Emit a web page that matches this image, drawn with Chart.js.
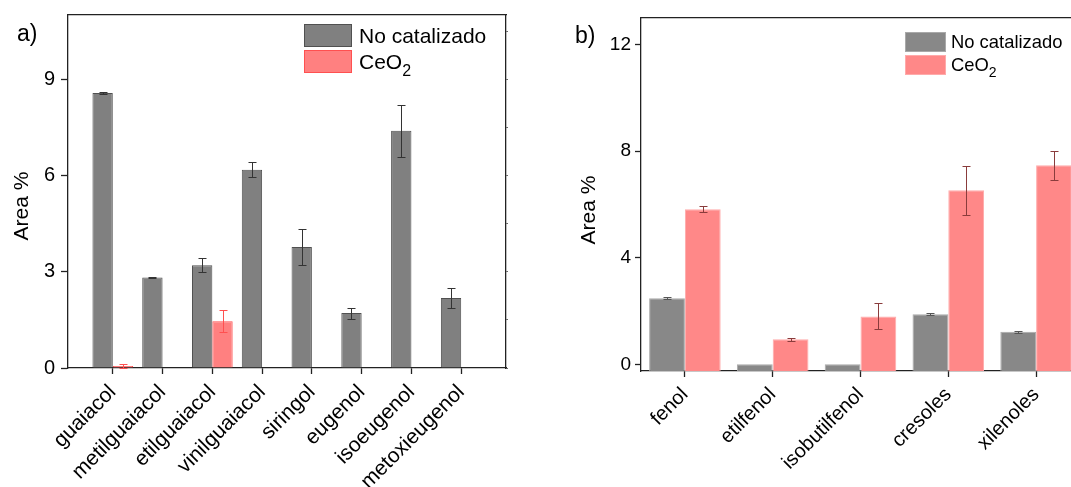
<!DOCTYPE html>
<html>
<head>
<meta charset="utf-8">
<script src="https://cdn.jsdelivr.net/npm/chart.js@4.4.1/dist/chart.umd.min.js"></script>
<style>
html,body{margin:0;padding:0;background:#fff;}
body{width:1071px;height:487px;position:relative;overflow:hidden;font-family:'Liberation Sans',Arial,sans-serif;color:#000;}
canvas{position:absolute;top:0;}
#ca{left:0;}
#cb{left:540px;}
.lbl{position:absolute;font-size:23px;line-height:23px;white-space:nowrap;}
.ytitle{position:absolute;font-size:21px;line-height:21px;white-space:nowrap;transform:translate(-50%,-50%) rotate(-90deg);}
.leg{position:absolute;}
.sw{position:absolute;box-sizing:border-box;border:1px solid;}
.tx{position:absolute;white-space:nowrap;}
.tx sub{line-height:0;}
</style>
</head>
<body>
<canvas id="ca" width="530" height="487"></canvas>
<canvas id="cb" width="560" height="487"></canvas>
<div class="lbl" style="left:17px;top:22px;">a)</div>
<div class="lbl" style="left:575px;top:24px;">b)</div>
<div class="ytitle" style="left:20px;top:206px;">Area %</div>
<div class="ytitle" style="left:587px;top:210px;">Area %</div>
<div id="legA" class="leg"></div>
<div id="legB" class="leg"></div>
<script>
// ---------- data ----------
const seriesNames = ['No catalizado', 'CeO2'];

const catsA = ['guaiacol', 'metilguaiacol', 'etilguaiacol', 'vinilguaiacol', 'siringol', 'eugenol', 'isoeugenol', 'metoxieugenol'];
const noCatA = [8.57, 2.82, 3.20, 6.18, 3.77, 1.71, 7.39, 2.18];
const noCatErrA = [0.02, 0.01, 0.22, 0.24, 0.56, 0.17, 0.82, 0.31];
const ceA = [0.06, 0, 1.46, 0, 0, 0, 0, 0];
const ceErrA = [0.05, 0, 0.34, 0, 0, 0, 0, 0];
const yTicksA = [0, 3, 6, 9];
const yMinorA = [0, 1.5, 3, 4.5, 6, 7.5, 9, 10.5];

const catsB = ['fenol', 'etilfenol', 'isobutilfenol', 'cresoles', 'xilenoles'];
const noCatB = [2.48, 0, 0, 1.88, 1.22];
const noCatErrB = [0.03, 0, 0, 0.03, 0.05];
const ceB = [5.82, 0.94, 1.80, 6.53, 7.47];
const ceErrB = [0.11, 0.06, 0.49, 0.93, 0.55];
const yTicksB = [0, 4, 8, 12];

// ---------- helpers ----------
const FONT = "'Liberation Sans', Arial, sans-serif";
Chart.defaults.font.family = FONT;
Chart.defaults.color = '#000';

const errPlugin = {
  id: 'errbars',
  afterDatasetsDraw(chart) {
    const ctx = chart.ctx;
    const y = chart.scales.y;
    const cap = chart.options.plugins.errbars.cap;
    chart.data.datasets.forEach((ds, d) => {
      const meta = chart.getDatasetMeta(d);
      meta.data.forEach((el, i) => {
        const e = ds.errors[i];
        if (!e) return;
        const v = ds.data[i].y;
        const t = Math.round(y.getPixelForValue(v + e)) + 0.5;
        const b = Math.round(y.getPixelForValue(v - e)) + 0.5;
        const x = Math.round(el.x) + 0.5;
        ctx.save();
        ctx.strokeStyle = ds.errorColor;
        ctx.lineWidth = 1;
        ctx.beginPath();
        ctx.moveTo(x, t); ctx.lineTo(x, b);
        ctx.moveTo(x - cap, t); ctx.lineTo(x + cap, t);
        ctx.moveTo(x - cap, b); ctx.lineTo(x + cap, b);
        ctx.stroke();
        ctx.restore();
      });
    });
  }
};

function pts(vals) { return vals.map((v, i) => ({ x: i + 1, y: v })); }

function buildLegend(chart, el, o) {
  el.style.left = o.left + 'px';
  el.style.top = o.top + 'px';
  el.innerHTML = '';
  chart.data.datasets.forEach((ds, i) => {
    const sw = document.createElement('div');
    sw.className = 'sw';
    sw.style.left = '0px';
    sw.style.top = (i * o.rowH) + 'px';
    sw.style.width = o.swW + 'px';
    sw.style.height = o.swH + 'px';
    sw.style.background = ds.backgroundColor;
    sw.style.borderColor = ds.borderColor;
    el.appendChild(sw);
    const tx = document.createElement('div');
    tx.className = 'tx';
    tx.style.left = o.textX + 'px';
    tx.style.top = (i * o.rowH) + 'px';
    tx.style.fontSize = o.size + 'px';
    tx.style.lineHeight = o.swH + 'px';
    tx.innerHTML = ds.label.replace(/(\d+)$/, '<sub style="font-size:' + o.subSize + 'px;vertical-align:-' + o.subShift + 'px">$1</sub>');
    el.appendChild(tx);
  });
}

function frameAxis(extra) {
  return Object.assign({
    type: 'linear',
    offset: false,
    ticks: { display: false },
    grid: { display: true, drawOnChartArea: false, drawTicks: false, offset: false },
    border: { display: true, color: '#222', width: 1.3 }
  }, extra);
}

// ---------- chart a ----------
const chartA = new Chart(document.getElementById('ca'), {
  type: 'bar',
  data: {
    datasets: [
      { label: seriesNames[0], data: pts(noCatA), errors: noCatErrA, errorColor: '#333333',
        backgroundColor: '#808080', borderColor: '#505050', borderWidth: 1,
        categoryPercentage: 0.817, barPercentage: 1, xAxisID: 'x', yAxisID: 'y' },
      { label: seriesNames[1], data: pts(ceA), errors: ceErrA, errorColor: '#ff5050',
        backgroundColor: '#ff8080', borderColor: '#ff5050', borderWidth: 1,
        categoryPercentage: 0.817, barPercentage: 1, xAxisID: 'x', yAxisID: 'y' }
    ]
  },
  options: {
    responsive: false, animation: false, devicePixelRatio: 1,
    layout: { padding: { left: 0, top: 15, right: 24, bottom: 0 } },
    plugins: { legend: { display: false }, tooltip: { enabled: false }, errbars: { cap: 4 } },
    scales: {
      x: {
        type: 'linear', position: 'bottom', min: 0.1, max: 8.9, offset: false,
        afterBuildTicks: s => { s.ticks = catsA.map((c, i) => ({ value: i + 1 })); },
        afterFit: s => { s.height = 119; s.paddingLeft = 0; s.paddingRight = 0; },
        ticks: { autoSkip: false, maxRotation: 45, minRotation: 45, padding: 6, font: { size: 21 }, color: '#000',
          callback: v => catsA[Math.round(v) - 1] },
        grid: { drawOnChartArea: false, drawTicks: true, tickLength: 6, tickColor: '#222', tickWidth: 1.3, offset: false },
        border: { color: '#222', width: 1.3 }
      },
      y: {
        type: 'linear', position: 'left', min: 0, max: 11,
        afterBuildTicks: s => { s.ticks = yTicksA.map(v => ({ value: v })); },
        afterFit: s => { s.width = 68; s.paddingTop = 0; s.paddingBottom = 0; },
        ticks: { font: { size: 20 }, color: '#000', padding: 6 },
        grid: { drawOnChartArea: false, drawTicks: true, tickLength: 7, tickColor: '#222', tickWidth: 1.3 },
        border: { color: '#222', width: 1.3 }
      },
      x2: frameAxis({ position: 'top', min: 0.1, max: 8.9,
        afterFit: s => { s.height = 0; s.paddingLeft = 0; s.paddingRight = 0; } }),
      y2: frameAxis({ position: 'right', min: 0, max: 11,
        afterBuildTicks: s => { s.ticks = yMinorA.map(v => ({ value: v })); },
        grid: { display: true, drawOnChartArea: false, drawTicks: true, tickLength: 2, tickColor: '#666', tickWidth: 1 },
        afterFit: s => { s.width = 0; s.paddingTop = 0; s.paddingBottom = 0; } })
    }
  },
  plugins: [errPlugin]
});
buildLegend(chartA, document.getElementById('legA'),
  { left: 304, top: 24, rowH: 26, swW: 48, swH: 23, textX: 55, size: 21, subSize: 16, subShift: 7 });

// ---------- chart b ----------
const chartB = new Chart(document.getElementById('cb'), {
  type: 'bar',
  data: {
    datasets: [
      { label: seriesNames[0], data: pts(noCatB), errors: noCatErrB, errorColor: '#555555',
        backgroundColor: '#888888', borderColor: '#a9a9a9', borderWidth: 1, base: -0.25,
        categoryPercentage: 0.815, barPercentage: 1, xAxisID: 'x', yAxisID: 'y' },
      { label: seriesNames[1], data: pts(ceB), errors: ceErrB, errorColor: '#8a3c3c',
        backgroundColor: '#ff8888', borderColor: '#ffaaaa', borderWidth: 1, base: -0.25,
        categoryPercentage: 0.815, barPercentage: 1, xAxisID: 'x', yAxisID: 'y' }
    ]
  },
  options: {
    responsive: false, animation: false, devicePixelRatio: 1,
    layout: { padding: { left: 0, top: 18, right: 20, bottom: 0 } },
    plugins: { legend: { display: false }, tooltip: { enabled: false }, errbars: { cap: 4 } },
    scales: {
      x: {
        type: 'linear', position: 'bottom', min: 0.5, max: 5.5, offset: false,
        afterBuildTicks: s => { s.ticks = catsB.map((c, i) => ({ value: i + 1 })); },
        afterFit: s => { s.height = 116; s.paddingLeft = 0; s.paddingRight = 0; },
        ticks: { autoSkip: false, maxRotation: 45, minRotation: 45, padding: 6, font: { size: 20 }, color: '#000',
          callback: v => catsB[Math.round(v) - 1] },
        grid: { drawOnChartArea: false, drawTicks: true, tickLength: 6, tickColor: '#222', tickWidth: 1.3, offset: false },
        border: { color: '#222', width: 1.3 }
      },
      y: {
        type: 'linear', position: 'left', min: -0.25, max: 13,
        afterBuildTicks: s => { s.ticks = yTicksB.map(v => ({ value: v })); },
        afterFit: s => { s.width = 101; s.paddingTop = 0; s.paddingBottom = 0; },
        ticks: { font: { size: 19 }, color: '#000', padding: 4 },
        grid: { drawOnChartArea: false, drawTicks: true, tickLength: 6, tickColor: '#222', tickWidth: 1.3 },
        border: { color: '#222', width: 1.3 }
      },
      x2: frameAxis({ position: 'top', min: 0.5, max: 5.5,
        afterFit: s => { s.height = 0; s.paddingLeft = 0; s.paddingRight = 0; } }),
      y2: frameAxis({ position: 'right', min: -0.25, max: 13,
        afterFit: s => { s.width = 0; s.paddingTop = 0; s.paddingBottom = 0; } })
    }
  },
  plugins: [errPlugin]
});
buildLegend(chartB, document.getElementById('legB'),
  { left: 905, top: 32, rowH: 22.5, swW: 41, swH: 20, textX: 46, size: 18.4, subSize: 14, subShift: 6 });
</script>
</body>
</html>
